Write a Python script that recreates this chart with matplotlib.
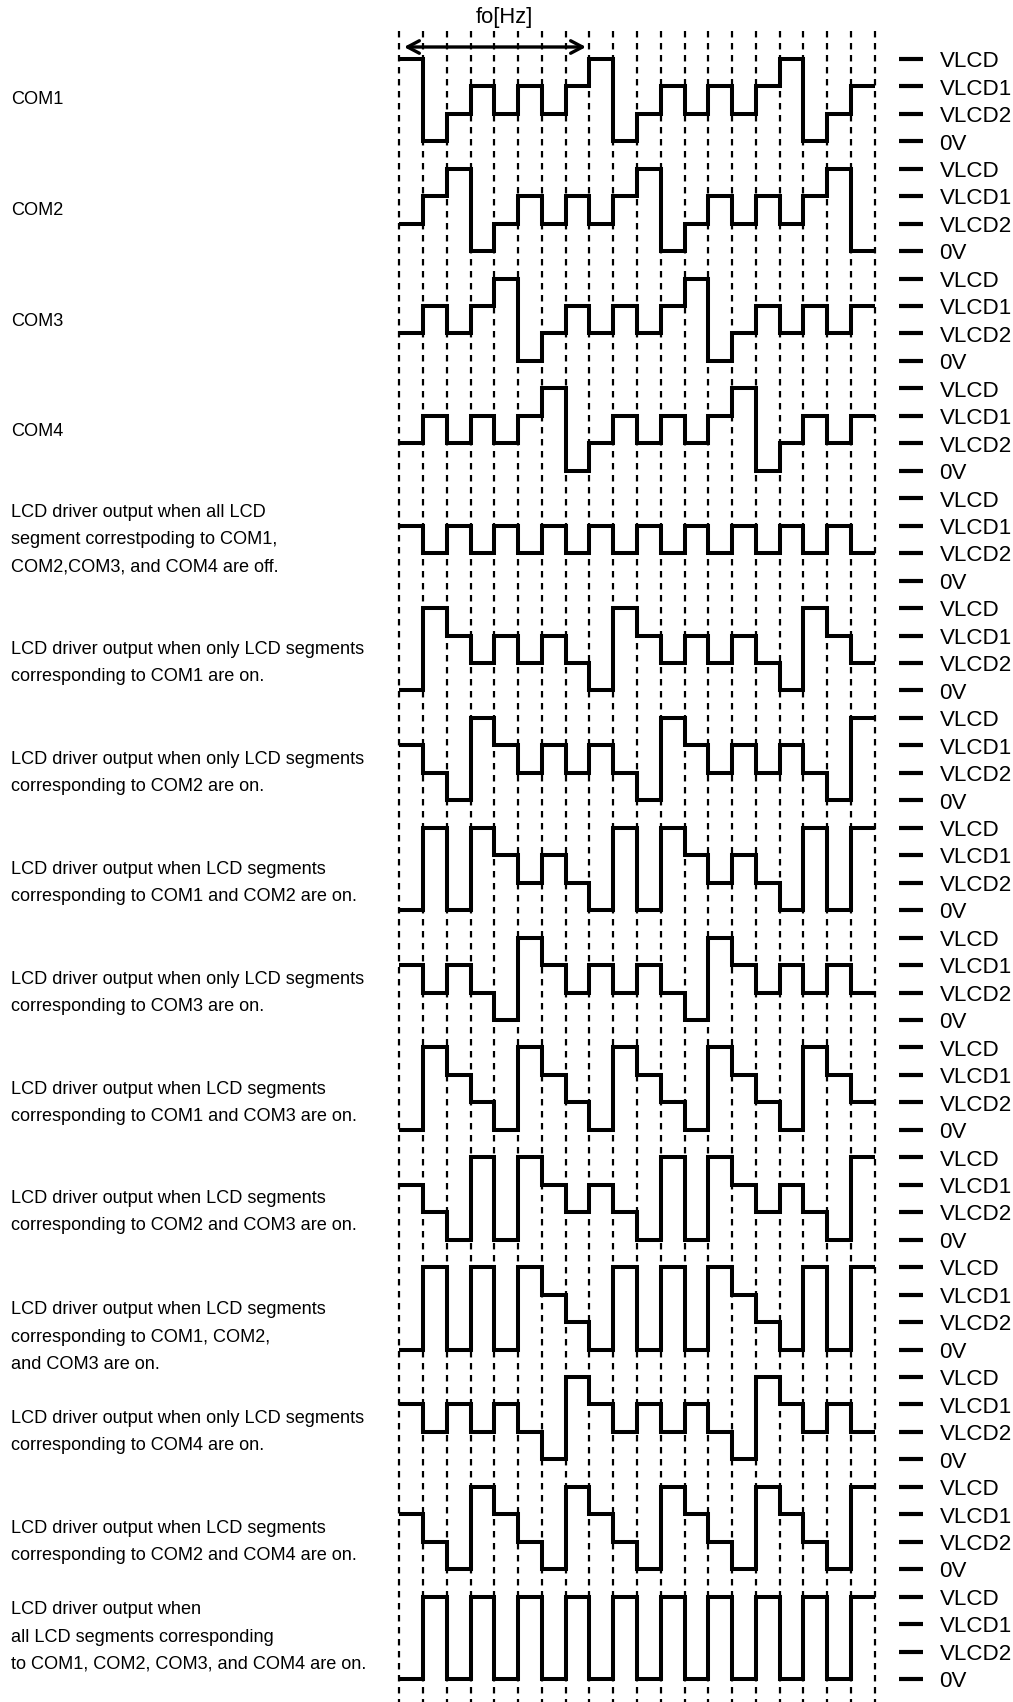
import matplotlib
matplotlib.use('Agg')
import matplotlib.pyplot as plt

plt.rcParams['font.family'] = ['Liberation Sans', 'DejaVu Sans']

# voltage levels, top to bottom
level_names = ['VLCD', 'VLCD1', 'VLCD2', '0V']

# waveform levels per time slot (0=VLCD 1=VLCD1 2=VLCD2 3=0V)
com1 = [0, 3, 2, 1, 2, 1, 2, 1, 0, 3, 2, 1, 2, 1, 2, 1, 0, 3, 2, 1]
com2 = [2, 1, 0, 3, 2, 1, 2, 1, 2, 1, 0, 3, 2, 1, 2, 1, 2, 1, 0, 3]
com3 = [2, 1, 2, 1, 0, 3, 2, 1, 2, 1, 2, 1, 0, 3, 2, 1, 2, 1, 2, 1]
com4 = [2, 1, 2, 1, 2, 1, 0, 3, 2, 1, 2, 1, 2, 1, 0, 3, 2, 1, 2, 1]
seg_off = [1, 2, 1, 2, 1, 2, 1, 2, 1, 2, 1, 2, 1, 2, 1, 2, 1, 2, 1, 2]
seg_c1 = [3, 0, 1, 2, 1, 2, 1, 2, 3, 0, 1, 2, 1, 2, 1, 2, 3, 0, 1, 2]
seg_c2 = [1, 2, 3, 0, 1, 2, 1, 2, 1, 2, 3, 0, 1, 2, 1, 2, 1, 2, 3, 0]
seg_c12 = [3, 0, 3, 0, 1, 2, 1, 2, 3, 0, 3, 0, 1, 2, 1, 2, 3, 0, 3, 0]
seg_c3 = [1, 2, 1, 2, 3, 0, 1, 2, 1, 2, 1, 2, 3, 0, 1, 2, 1, 2, 1, 2]
seg_c13 = [3, 0, 1, 2, 3, 0, 1, 2, 3, 0, 1, 2, 3, 0, 1, 2, 3, 0, 1, 2]
seg_c23 = [1, 2, 3, 0, 3, 0, 1, 2, 1, 2, 3, 0, 3, 0, 1, 2, 1, 2, 3, 0]
seg_c123 = [3, 0, 3, 0, 3, 0, 1, 2, 3, 0, 3, 0, 3, 0, 1, 2, 3, 0, 3, 0]
seg_c4 = [1, 2, 1, 2, 1, 2, 3, 0, 1, 2, 1, 2, 1, 2, 3, 0, 1, 2, 1, 2]
seg_c24 = [1, 2, 3, 0, 1, 2, 3, 0, 1, 2, 3, 0, 1, 2, 3, 0, 1, 2, 3, 0]
seg_all = [3, 0, 3, 0, 3, 0, 3, 0, 3, 0, 3, 0, 3, 0, 3, 0, 3, 0, 3, 0]

rows = [com1, com2, com3, com4, seg_off, seg_c1, seg_c2, seg_c12, seg_c3,
        seg_c13, seg_c23, seg_c123, seg_c4, seg_c24, seg_all]

row_labels = [
    ['COM1'],
    ['COM2'],
    ['COM3'],
    ['COM4'],
    ['LCD driver output when all LCD', 'segment correstpoding to COM1,', 'COM2,COM3, and COM4 are off.'],
    ['LCD driver output when only LCD segments', 'corresponding to COM1 are on.'],
    ['LCD driver output when only LCD segments', 'corresponding to COM2 are on.'],
    ['LCD driver output when LCD segments', 'corresponding to COM1 and COM2 are on.'],
    ['LCD driver output when only LCD segments', 'corresponding to COM3 are on.'],
    ['LCD driver output when LCD segments', 'corresponding to COM1 and COM3 are on.'],
    ['LCD driver output when LCD segments', 'corresponding to COM2 and COM3 are on.'],
    ['LCD driver output when LCD segments', 'corresponding to COM1, COM2,', 'and COM3 are on.'],
    ['LCD driver output when only LCD segments', 'corresponding to COM4 are on.'],
    ['LCD driver output when LCD segments', 'corresponding to COM2 and COM4 are on.'],
    ['LCD driver output when', 'all LCD segments corresponding', 'to COM1, COM2, COM3, and COM4 are on.'],
]

W, H = 1013, 1702
x0, dx = 399.3, 23.77   # slot 0 position and slot width in pixels
y0, dy = 58.9, 27.46    # first VLCD level and level pitch in pixels
pitch = 4               # levels per row

fig = plt.figure(figsize=(W / 100, H / 100), dpi=100)
ax = fig.add_axes([0, 0, 1, 1])
# axes run in time slots and voltage levels
ax.set_xlim(-x0 / dx, (W - x0) / dx)
ax.set_ylim((H - y0) / dy, -y0 / dy)
ax.axis('off')

# slot gridlines
top = (31 - y0) / dy
bottom = (1702 - y0) / dy
for i in range(21):
    ax.plot([i, i], [top, bottom], color='black', lw=1.6,
            dashes=(2.9, 2.5), zorder=1)

tick_left = (899 - x0) / dx
tick_right = (923 - x0) / dx
text_x = (939.5 - x0) / dx
for r, row in enumerate(rows):
    base = r * pitch
    xs = list(range(21))
    ys = [base + v for v in row] + [base + row[-1]]
    ax.step(xs, ys, where='post', color='black', lw=2.9,
            solid_joinstyle='miter', solid_capstyle='butt', zorder=2)
    for k, name in enumerate(level_names):
        ax.plot([tick_left, tick_right], [base + k, base + k], color='black',
                lw=3.0, solid_capstyle='butt')
        ax.text(text_x, base + k + 0.1, name, fontsize=16.1, ha='left',
                va='center', color='black')

# row captions at the left, line spacing about one level
left_x = (11 - x0) / dx
caption_y = [100, 211, 321, 431, 540, 663, 773, 883, 993, 1103, 1212, 1337, 1432, 1542, 1637]
for lines, cy in zip(row_labels, caption_y):
    n = len(lines)
    for j, line in enumerate(lines):
        ly = cy + (j - (n - 1) / 2) * 27.4
        ax.text(left_x, (ly - y0) / dy, line, fontsize=13.05, ha='left',
                va='center', color='black')

# fo period arrow
arrow_y = (47 - y0) / dy
ax.annotate('', xy=((404 - x0) / dx, arrow_y), xytext=((586 - x0) / dx, arrow_y),
            arrowprops=dict(arrowstyle='<->,head_length=0.85,head_width=0.45',
                            color='black', lw=2.4, shrinkA=0, shrinkB=0))
ax.text((504.5 - x0) / dx, (18 - y0) / dy, 'fo[Hz]', fontsize=15.8, ha='center',
        va='center', color='black')

fig.savefig('out.png', dpi=100)
